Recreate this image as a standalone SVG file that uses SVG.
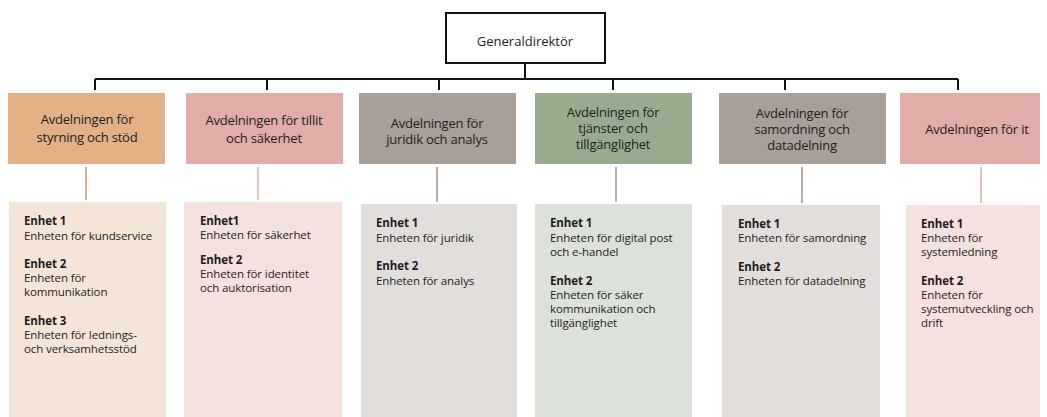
<svg xmlns="http://www.w3.org/2000/svg" width="1047" height="417" viewBox="0 0 1047 417">
<style>
text{font-family:"Open Sans","Liberation Sans",sans-serif;fill:#1e1e1e}
.top{font-size:13px;text-anchor:middle}
.dept{font-size:13px;text-anchor:middle;font-weight:500;letter-spacing:-0.2px}
.u{font-size:11.5px;letter-spacing:-0.1px}
.b{font-weight:bold}
.cn{stroke:#111;stroke-width:2;fill:none}
</style>
<rect width="1047" height="417" fill="#fff"/>
<g id="connectors">
<path class="cn" d="M525 63V79M95 79H958M95 79V90M267 79V90M439 79V90M613 79V90M785 79V90M958 79V90"/>
<g stroke-width="2">
<line x1="86" y1="167" x2="86" y2="200" stroke="#E3B185"/>
<line x1="258" y1="167" x2="258" y2="200" stroke="#EAC0BC"/>
<line x1="437" y1="167" x2="437" y2="202" stroke="#B6AEA8"/>
<line x1="616" y1="167" x2="616" y2="202" stroke="#A8B9A1"/>
<line x1="802" y1="167" x2="802" y2="203" stroke="#B6AEA8"/>
<line x1="981" y1="167" x2="981" y2="203" stroke="#EAC0BC"/>
</g>
</g>
<g id="gd">
<rect x="446" y="13" width="159" height="50" fill="#fff" stroke="#111" stroke-width="2"/>
<text class="top" x="525" y="46">Generaldirektör</text>
</g>
<g id="d1">
<rect x="8" y="93" width="157" height="71" fill="#E3B185"/>
<text class="dept" x="87" y="124">Avdelningen för</text>
<text class="dept" x="87" y="142">styrning och stöd</text>
</g>
<g id="d2">
<rect x="186" y="93" width="157" height="71" fill="#E2ADA8"/>
<text class="dept" x="264" y="125">Avdelningen för tillit</text>
<text class="dept" x="264" y="143">och säkerhet</text>
</g>
<g id="d3">
<rect x="359" y="93" width="157" height="71" fill="#A89F98"/>
<text class="dept" x="437" y="128">Avdelningen för</text>
<text class="dept" x="437" y="144">juridik och analys</text>
</g>
<g id="d4">
<rect x="535" y="93" width="157" height="71" fill="#97AC8F"/>
<text class="dept" x="613" y="117">Avdelningen för</text>
<text class="dept" x="613" y="133">tjänster och</text>
<text class="dept" x="613" y="149">tillgänglighet</text>
</g>
<g id="d5">
<rect x="719" y="93" width="167" height="71" fill="#A89F98"/>
<text class="dept" x="802" y="118">Avdelningen för</text>
<text class="dept" x="802" y="134">samordning och</text>
<text class="dept" x="802" y="150">datadelning</text>
</g>
<g id="d6">
<rect x="900" y="93" width="140" height="71" fill="#E2ADA8"/>
<text class="dept" x="977" y="134">Avdelningen för it</text>
</g>
<g id="u1">
<rect x="9" y="202" width="157" height="215" fill="#F5E5D7"/>
<text class="u" x="24"><tspan class="b" x="24" y="225">Enhet 1</tspan><tspan x="24" y="240">Enheten för kundservice</tspan><tspan class="b" x="24" y="268">Enhet 2</tspan><tspan x="24" y="282">Enheten för</tspan><tspan x="24" y="296">kommunikation</tspan><tspan class="b" x="24" y="325">Enhet 3</tspan><tspan x="24" y="339">Enheten för lednings-</tspan><tspan x="24" y="353">och verksamhetsstöd</tspan></text>
</g>
<g id="u2">
<rect x="184" y="202" width="158" height="215" fill="#F5E1DF"/>
<text class="u" x="200"><tspan class="b" x="200" y="225">Enhet1</tspan><tspan x="200" y="239">Enheten för säkerhet</tspan><tspan class="b" x="200" y="264">Enhet 2</tspan><tspan x="200" y="278">Enheten för identitet</tspan><tspan x="200" y="292">och auktorisation</tspan></text>
</g>
<g id="u3">
<rect x="361" y="204" width="156" height="213" fill="#E2DEDB"/>
<text class="u" x="376"><tspan class="b" x="376" y="227">Enhet 1</tspan><tspan x="376" y="242">Enheten för juridik</tspan><tspan class="b" x="376" y="270">Enhet 2</tspan><tspan x="376" y="285">Enheten för analys</tspan></text>
</g>
<g id="u4">
<rect x="535" y="204" width="157" height="213" fill="#DCE2D9"/>
<text class="u" x="550"><tspan class="b" x="550" y="227">Enhet 1</tspan><tspan x="550" y="242">Enheten för digital post</tspan><tspan x="550" y="256">och e-handel</tspan><tspan class="b" x="550" y="285">Enhet 2</tspan><tspan x="550" y="299">Enheten för säker</tspan><tspan x="550" y="313">kommunikation och</tspan><tspan x="550" y="327">tillgänglighet</tspan></text>
</g>
<g id="u5">
<rect x="722" y="205" width="158" height="212" fill="#E2DEDB"/>
<text class="u" x="738"><tspan class="b" x="738" y="228">Enhet 1</tspan><tspan x="738" y="242">Enheten för samordning</tspan><tspan class="b" x="738" y="271">Enhet 2</tspan><tspan x="738" y="285">Enheten för datadelning</tspan></text>
</g>
<g id="u6">
<rect x="906" y="205" width="134" height="212" fill="#F5E1DF"/>
<text class="u" x="921"><tspan class="b" x="921" y="228">Enhet 1</tspan><tspan x="921" y="242">Enheten för</tspan><tspan x="921" y="256">systemledning</tspan><tspan class="b" x="921" y="285">Enhet 2</tspan><tspan x="921" y="299">Enheten för</tspan><tspan x="921" y="313">systemutveckling och</tspan><tspan x="921" y="327">drift</tspan></text>
</g>
</svg>
